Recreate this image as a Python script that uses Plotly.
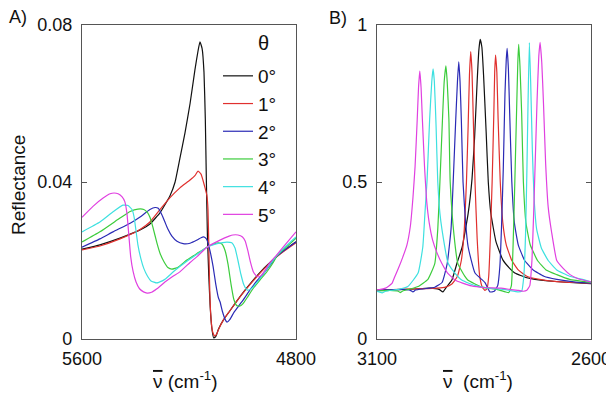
import plotly.graph_objects as go

# ---------------- data ----------------
labels = ["0°", "1°", "2°", "3°", "4°", "5°"]
colors = ["#111111", "#e0302e", "#2a2ab5", "#3ccc3c", "#3ee0e0", "#e040e0"]

# Panel A (5600-4800 cm-1)
a0_v = [5600, 5533, 5458, 5383, 5346, 5308, 5271, 5252, 5234, 5215, 5196, 5178, 5166, 5159, 5151, 5144, 5139, 5135, 5131, 5126, 5121, 5115, 5108, 5100, 5090, 5070, 5047, 5020, 4990, 4960, 4923, 4897, 4871, 4840, 4800]
a0_r = [.0229, .0240, .0257, .0278, .0293, .0322, .0365, .0400, .0460, .0525, .0600, .0685, .0735, .0757, .0740, .0680, .0560, .0400, .0260, .0160, .0085, .0030, .0003, .0006, .0025, .0050, .0072, .0098, .0125, .0150, .0178, .0195, .0211, .0228, .0248]

a1_v = [5600, 5533, 5458, 5383, 5346, 5308, 5271, 5234, 5196, 5178, 5166, 5155, 5148, 5140, 5133, 5129, 5126, 5123, 5119, 5113, 5105, 5097, 5088, 5070, 5047, 5020, 4990, 4960, 4923, 4897, 4871, 4840, 4800]
a1_r = [.0227, .0237, .0255, .0279, .0298, .0330, .0360, .0385, .0405, .0416, .0428, .0420, .0405, .0385, .0365, .0330, .0240, .0140, .0065, .0022, .0008, .0012, .0027, .0050, .0072, .0098, .0124, .0148, .0176, .0194, .0210, .0226, .0245]

a2_v = [5600, 5533, 5484, 5420, 5383, 5346, 5327, 5315, 5301, 5290, 5279, 5264, 5245, 5222, 5196, 5170, 5155, 5145, 5135, 5129, 5120, 5110, 5100, 5090, 5084, 5075, 5065, 5058, 5047, 5032, 5021, 5000, 4972, 4950, 4923, 4897, 4871, 4840, 4800]
a2_r = [.0234, .0255, .0273, .0295, .0311, .0330, .0335, .0333, .0316, .0298, .0280, .0262, .0249, .0243, .0244, .0252, .0258, .0260, .0255, .0245, .0220, .0185, .0140, .0105, .0095, .0070, .0050, .0043, .0050, .0068, .0078, .0097, .0125, .0145, .0165, .0188, .0211, .0228, .0247]

a3_v = [5600, 5533, 5458, 5420, 5391, 5369, 5355, 5346, 5335, 5320, 5308, 5293, 5279, 5264, 5241, 5208, 5170, 5133, 5107, 5090, 5077, 5065, 5054, 5043, 5032, 5021, 5009, 4998, 4983, 4961, 4935, 4908, 4885, 4871, 4840, 4800]
a3_r = [.0247, .0273, .0308, .0325, .0331, .0330, .0322, .0310, .0285, .0245, .0218, .0196, .0182, .0178, .0183, .0201, .0218, .0234, .0242, .0245, .0242, .0225, .0190, .0140, .0100, .0085, .0084, .0090, .0105, .0128, .0150, .0172, .0195, .0212, .0232, .0257]

a4_v = [5600, 5533, 5484, 5447, 5428, 5413, 5405, 5398, 5391, 5380, 5369, 5355, 5342, 5320, 5300, 5290, 5252, 5208, 5170, 5133, 5095, 5058, 5040, 5028, 5017, 5006, 4995, 4983, 4972, 4960, 4945, 4923, 4897, 4871, 4840, 4800]
a4_r = [.0273, .0298, .0324, .0341, .0340, .0330, .0310, .0275, .0240, .0205, .0180, .0160, .0148, .0143, .0148, .0152, .0175, .0198, .0216, .0234, .0243, .0247, .0245, .0232, .0200, .0165, .0138, .0125, .0126, .0133, .0145, .0165, .0190, .0213, .0235, .0260]

a5_v = [5600, 5559, 5521, 5495, 5480, 5465, 5450, 5440, 5432, 5425, 5418, 5409, 5398, 5385, 5370, 5357, 5340, 5320, 5290, 5260, 5234, 5196, 5170, 5133, 5084, 5050, 5036, 5017, 5000, 4990, 4980, 4970, 4960, 4950, 4940, 4930, 4916, 4897, 4871, 4841, 4800]
a5_r = [.0310, .0338, .0359, .0370, .0372, .0370, .0362, .0350, .0320, .0265, .0210, .0172, .0145, .0128, .0120, .0117, .0119, .0128, .0145, .0160, .0171, .0195, .0210, .0234, .0252, .0262, .0265, .0265, .0260, .0250, .0225, .0195, .0172, .0162, .0158, .0162, .0175, .0195, .0215, .0240, .0273]

# Panel B (3100-2600 cm-1)
b0_v = [3100, 3050, 3000, 2976, 2955, 2946, 2938, 2925, 2913, 2901, 2887, 2878, 2872, 2866, 2862, 2859, 2855, 2851, 2845, 2840, 2834, 2822, 2806, 2790, 2778, 2750, 2731, 2700, 2650, 2600]
b0_r = [.155, .157, .160, .162, .158, .150, .165, .188, .242, .293, .400, .510, .640, .820, .920, .954, .930, .840, .660, .500, .400, .310, .252, .225, .210, .195, .190, .185, .180, .176]

b1_v = [3100, 3050, 3000, 2960, 2940, 2925, 2912, 2903, 2896, 2891, 2887, 2884, 2881, 2878, 2875, 2871, 2866, 2860, 2854, 2848, 2843, 2839, 2835, 2831, 2827, 2825, 2823, 2820, 2817, 2812, 2806, 2798, 2785, 2770, 2750, 2720, 2680, 2640, 2600]
b1_r = [.155, .158, .160, .162, .165, .175, .200, .250, .350, .500, .680, .840, .915, .850, .700, .500, .320, .200, .165, .155, .160, .200, .330, .500, .720, .850, .904, .850, .700, .500, .370, .300, .250, .220, .200, .190, .183, .180, .177]

b2_v = [3100, 3040, 3022, 3016, 3010, 2990, 2965, 2948, 2936, 2927, 2922, 2916, 2912, 2909, 2906, 2903, 2899, 2893, 2887, 2871, 2848, 2836, 2826, 2818, 2813, 2809, 2805, 2801, 2798, 2796, 2793, 2790, 2785, 2779, 2770, 2755, 2735, 2710, 2680, 2640, 2600]
b2_r = [.155, .158, .155, .150, .156, .160, .165, .180, .240, .350, .500, .700, .820, .883, .820, .700, .500, .370, .293, .210, .180, .150, .152, .170, .230, .360, .540, .780, .890, .926, .860, .720, .500, .370, .300, .250, .220, .200, .190, .182, .178]

b3_v = [3100, 3070, 3050, 3046, 3040, 3020, 3004, 2981, 2965, 2958, 2953, 2947, 2943, 2939, 2936, 2932, 2929, 2920, 2911, 2895, 2888, 2855, 2820, 2800, 2792, 2786, 2782, 2778, 2774, 2771, 2769, 2766, 2762, 2758, 2752, 2742, 2725, 2705, 2680, 2650, 2600]
b3_r = [.153, .155, .152, .148, .153, .160, .167, .190, .240, .350, .500, .700, .820, .870, .820, .700, .500, .330, .240, .200, .188, .165, .158, .150, .148, .170, .300, .500, .720, .880, .938, .870, .720, .500, .370, .300, .250, .220, .205, .190, .180]

b4_v = [3100, 3095, 3088, 3080, 3050, 3028, 3004, 2993, 2988, 2983, 2977, 2972, 2969, 2966, 2962, 2958, 2953, 2948, 2934, 2918, 2902, 2871, 2840, 2800, 2770, 2762, 2757, 2753, 2750, 2747, 2744, 2741, 2737, 2733, 2727, 2716, 2700, 2680, 2650, 2620, 2600]
b4_r = [.152, .150, .147, .152, .158, .167, .210, .293, .400, .506, .700, .820, .860, .820, .680, .500, .400, .347, .242, .210, .188, .170, .162, .157, .150, .152, .200, .330, .520, .760, .944, .820, .600, .450, .350, .290, .250, .220, .200, .190, .182]

b5_v = [3100, 3080, 3065, 3058, 3050, 3040, 3030, 3022, 3016, 3011, 3006, 3003, 3000, 2997, 2994, 2989, 2984, 2978, 2970, 2960, 2949, 2935, 2918, 2900, 2879, 2850, 2810, 2790, 2770, 2758, 2750, 2743, 2738, 2734, 2730, 2726, 2722, 2719, 2715, 2711, 2706, 2700, 2692, 2680, 2665, 2649, 2630, 2600]
b5_r = [.156, .162, .177, .200, .225, .260, .300, .360, .450, .550, .700, .800, .853, .800, .700, .550, .440, .370, .315, .275, .242, .210, .188, .178, .169, .164, .162, .158, .155, .152, .155, .170, .250, .400, .580, .760, .900, .945, .880, .750, .560, .420, .340, .250, .225, .205, .192, .182]

a_v = [a0_v, a1_v, a2_v, a3_v, a4_v, a5_v]
a_r = [a0_r, a1_r, a2_r, a3_r, a4_r, a5_r]
b_v = [b0_v, b1_v, b2_v, b3_v, b4_v, b5_v]
b_r = [b0_r, b1_r, b2_r, b3_r, b4_r, b5_r]

a_xticks = [5600, 4800]
a_yticks = [0, 0.04, 0.08]
a_yticktext = ["0", "0.04", "0.08"]
b_xticks = [3100, 2600]
b_yticks = [0, 0.5, 1]
b_yticktext = ["0", "0.5", "1"]

# ---------------- figure ----------------
# the page body has an 8 px margin, so the figure is 8 px smaller than the window
OFF = 8
W, H = 614 - OFF, 400 - OFF
FONT = "Arial, 'Liberation Sans', sans-serif"
fig = go.Figure()

for i in range(6):
    fig.add_trace(go.Scatter(x=a_v[i], y=a_r[i], mode="lines", name=labels[i],
                             line=dict(color=colors[i], width=1.2, shape="spline", smoothing=0.4),
                             xaxis="x", yaxis="y", showlegend=True))
for i in range(6):
    fig.add_trace(go.Scatter(x=b_v[i], y=b_r[i], mode="lines", name=labels[i],
                             line=dict(color=colors[i], width=1.2, shape="spline", smoothing=0.4),
                             xaxis="x2", yaxis="y2", showlegend=False))

def px2x(p):
    return (p - OFF) / W

def py2y(p):
    return 1 - (p - OFF) / H

axis_common = dict(showgrid=False, zeroline=False, showline=True, linecolor="#555555",
                   linewidth=1.3, mirror="ticks", ticks="inside", ticklen=5,
                   tickcolor="#555555", tickfont=dict(family=FONT, size=18, color="#111111"))

fig.update_layout(
    width=W, height=H,
    margin=dict(l=0, r=0, t=0, b=0, autoexpand=False),
    paper_bgcolor="white", plot_bgcolor="white",
    font=dict(family=FONT, color="#111111"),
    xaxis=dict(domain=[px2x(82), px2x(296)], range=[5600, 4800], anchor="y",
               tickvals=a_xticks, ticktext=[str(t) for t in a_xticks],
               ticklabelstandoff=3, **axis_common),
    yaxis=dict(domain=[py2y(339), py2y(25)], range=[0, 0.08], anchor="x",
               tickvals=a_yticks, ticktext=a_yticktext, ticklabelstandoff=5, **axis_common),
    xaxis2=dict(domain=[px2x(377), px2x(591)], range=[3100, 2600], anchor="y2",
                tickvals=b_xticks, ticktext=[str(t) for t in b_xticks],
                ticklabelstandoff=3, **axis_common),
    yaxis2=dict(domain=[py2y(339), py2y(25)], range=[0, 1], anchor="x2",
                tickvals=b_yticks, ticktext=b_yticktext, ticklabelstandoff=5, **axis_common),
    legend=dict(x=px2x(218), y=py2y(57), xanchor="left", yanchor="top",
                bgcolor="rgba(0,0,0,0)", font=dict(family=FONT, size=19, color="#111111"),
                itemclick=False, itemdoubleclick=False),
)

nu_bar = '<span style="text-decoration:overline">ν</span>'
ann = [
    dict(text="A)", x=px2x(18), y=py2y(17), size=18),
    dict(text="B)", x=px2x(338), y=py2y(18), size=18),
    dict(text="θ", x=px2x(263), y=py2y(43), size=20),
    dict(text="Reflectance", x=px2x(19), y=py2y(185), textangle=-90, size=19),
    dict(text=nu_bar + " (cm<sup>-1</sup>)", x=px2x(185), y=py2y(380), size=19),
    dict(text=nu_bar + "  (cm<sup>-1</sup>)", x=px2x(478), y=py2y(380), size=19),
]
for a in ann:
    size = a.pop("size")
    fig.add_annotation(xref="paper", yref="paper", showarrow=False,
                       xanchor="center", yanchor="middle",
                       font=dict(family=FONT, size=size, color="#111111"),
                       **a)

fig.write_html("out.html")
